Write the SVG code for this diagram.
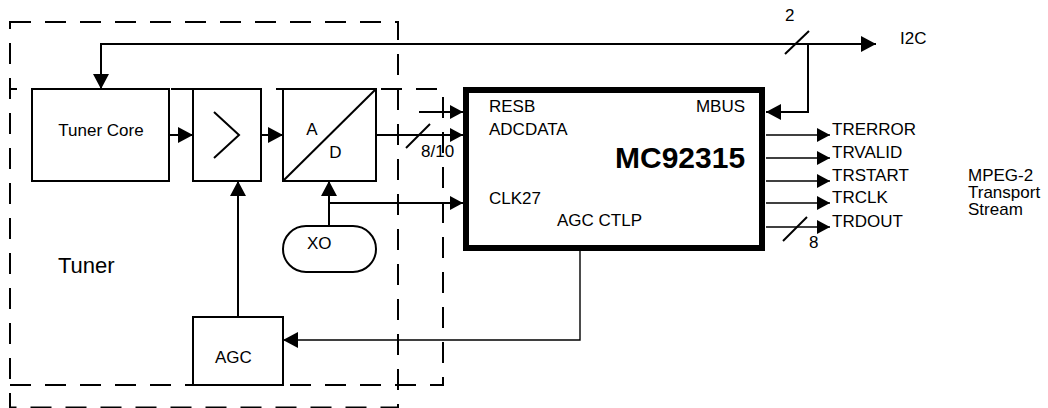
<svg xmlns="http://www.w3.org/2000/svg" width="1048" height="408" viewBox="0 0 1048 408">
<style>
text{font-family:"Liberation Sans",Arial,sans-serif;font-size:17px;fill:#000}
.box{fill:#fff;stroke:#000;stroke-width:2}
.dash{fill:none;stroke:#000;stroke-width:2;stroke-dasharray:21 14}
.w{fill:none;stroke:#000;stroke-width:2}
.t{fill:none;stroke:#000;stroke-width:1.4}
.big{marker-end:url(#ab)}
.sm{marker-end:url(#as)}
</style>
<defs>
<marker id="ab" markerUnits="userSpaceOnUse" markerWidth="15" markerHeight="16" viewBox="0 0 15 16" refX="15" refY="8" orient="auto"><path d="M0,0 L15,8 L0,16 z" fill="#000"/></marker>
<marker id="as" markerUnits="userSpaceOnUse" markerWidth="13" markerHeight="14" viewBox="0 0 13 14" refX="13" refY="7" orient="auto"><path d="M0,0 L13,7 L0,14 z" fill="#000"/></marker>
</defs>
<rect width="1048" height="408" fill="#fff"/>
<g id="tuner-region">
<rect class="dash" x="10" y="22" width="388" height="385.5"/>
<path class="dash" d="M10,89 H443 V385 H10" stroke-dashoffset="14"/>
<text x="58" y="273" style="font-size:22px">Tuner</text>
</g>
<g id="tuner-core">
<rect class="box" x="32" y="89" width="137" height="92"/>
<text x="101" y="135.5" text-anchor="middle">Tuner Core</text>
</g>
<g id="amplifier">
<rect class="box" x="193" y="89" width="68" height="92"/>
<path class="w" d="M214,112 L239,135 L214,158"/>
</g>
<g id="adc">
<rect class="box" x="283" y="89" width="93" height="92"/>
<path class="w" d="M283,181 L376,89"/>
<text x="312" y="135" text-anchor="middle">A</text>
<text x="335.5" y="158" text-anchor="middle">D</text>
</g>
<g id="xo">
<rect class="box" x="283" y="226" width="93" height="46" rx="23" ry="23"/>
<text x="307" y="249">XO</text>
</g>
<g id="agc">
<rect class="box" x="193" y="317" width="90" height="68"/>
<text x="215" y="363">AGC</text>
</g>
<g id="mc92315">
<rect x="466" y="90" width="296" height="158" fill="#fff" stroke="#000" stroke-width="6"/>
<text x="489" y="112">RESB</text>
<text x="489" y="135">ADCDATA</text>
<text x="489" y="204">CLK27</text>
<text x="557" y="226">AGC CTLP</text>
<text x="745" y="112" text-anchor="end">MBUS</text>
<text x="615" y="168" style="font-size:30px;font-weight:bold">MC92315</text>
</g>
<g id="connectors">
<path class="w big" d="M808,44 H876"/>
<path class="w big" d="M808,44 H101 V89"/>
<path class="w big" d="M808,44 V112 H766"/>
<path class="w" d="M785,54 L809,31"/>
<path class="w big" d="M169,135 H193"/>
<path class="w big" d="M261,135 H283"/>
<path class="w sm" d="M376,135 H463"/>
<path class="w" d="M406,148 L430,124"/>
<path class="w sm" d="M419,112 H463"/>
<path class="w big" d="M329,226 V181"/>
<path class="w sm" d="M329,203 H463"/>
<path class="w big" d="M238,317 V181"/>
<path class="t big" d="M580,251 V340 H283"/>
<path class="t sm" d="M766,135 H830"/>
<path class="t sm" d="M766,158 H830"/>
<path class="t sm" d="M766,181 H830"/>
<path class="t sm" d="M766,203 H830"/>
<path class="t sm" d="M766,227 H830"/>
<path class="w" d="M783,241 L807,217"/>
</g>
<g id="labels">
<text x="421" y="157">8/10</text>
<text x="785" y="21">2</text>
<text x="900" y="44">I2C</text>
<text x="832" y="135">TRERROR</text>
<text x="832" y="158">TRVALID</text>
<text x="832" y="181">TRSTART</text>
<text x="832" y="203">TRCLK</text>
<text x="832" y="227">TRDOUT</text>
<text x="809" y="248">8</text>
<text x="968" y="181">MPEG-2</text>
<text x="968" y="198">Transport</text>
<text x="968" y="215">Stream</text>
</g>
</svg>
